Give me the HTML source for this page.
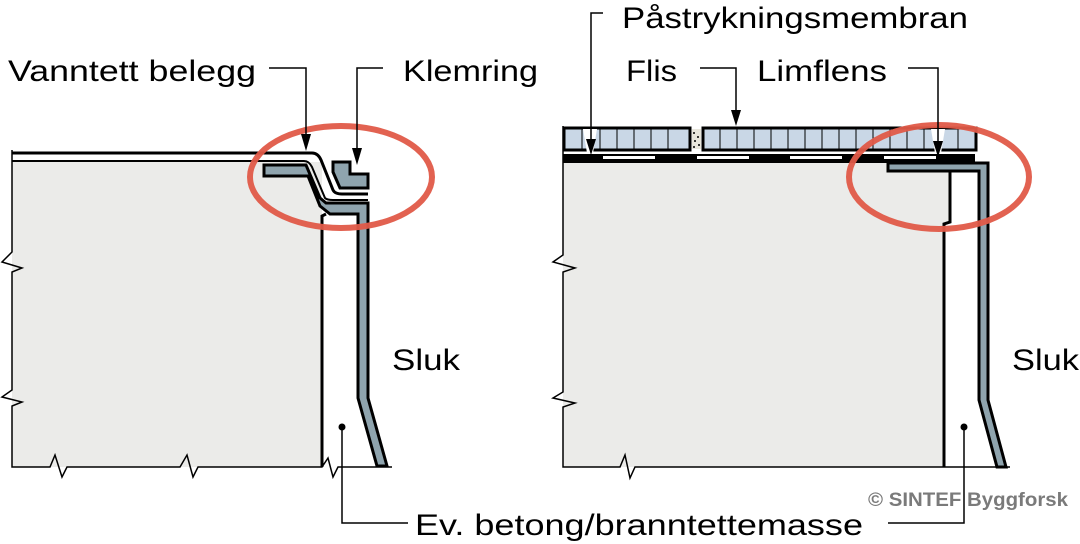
<!DOCTYPE html>
<html><head><meta charset="utf-8"><style>
html,body{margin:0;padding:0;background:#fff;}
svg{display:block;}
text{font-family:"Liberation Sans",Arial,sans-serif;fill:#000;}
</style></head><body>
<svg width="1080" height="544" viewBox="0 0 1080 544" xmlns="http://www.w3.org/2000/svg">

<path d="M12,162 L322,162 L322,467 L12,467 Z" fill="#ebebe9"/>
<path d="M12,150 L12,252 L2,262 L22,268 L12,272 L12,390 L2,397 L22,402 L12,406 L12,467 L50,467 L55,455 L62,477 L67,467 L180,467 L187,455 L193,477 L198,467 L322,467 L328,458 L333,477 L338,467 L392,467" fill="none" stroke="#000" stroke-width="1.5"/>
<path d="M322,467 L322,216 L326,214" fill="none" stroke="#000" stroke-width="3"/>
<path d="M264,165 L306,165 L320,198 L326,203 L368,203 L368,398 L387,466 L377,466 L358,398 L358,214 L330,214 L320,206 L308,176 L264,176 Z" fill="#8fa4ae" stroke="#000" stroke-width="3" stroke-linejoin="miter"/>
<path d="M12,153 L312,153 Q318,153 321,160 L333,190 Q335,194 342,194 L368,194" fill="none" stroke="#000" stroke-width="3"/>
<path d="M12,161 L304,161 Q309,161 312,167 L325,198 Q327,200 333,200 L368,200" fill="none" stroke="#000" stroke-width="2"/>
<path d="M333,162 L350,162 L350,174 L368,174 L368,188 L340,188 L333,172 Z" fill="#8fa4ae" stroke="#000" stroke-width="3" stroke-linejoin="miter"/>

<path d="M563,163 L950,163 L950,222 L944,224 L944,467 L563,467 Z" fill="#ebebe9"/>
<path d="M563,126 L563,255 L553,262 L575,268 L563,272 L563,392 L553,398 L575,403 L563,407 L563,467 L620,467 L625,455 L630,478 L635,467 L1010,467" fill="none" stroke="#000" stroke-width="1.5"/>
<path d="M950,170 L950,222 L944,224 L944,467" fill="none" stroke="#000" stroke-width="3"/>
<rect x="563" y="154" width="412" height="9" fill="#000"/>
<rect x="603" y="156" width="52" height="3" fill="#fff"/>
<rect x="697" y="156" width="52" height="3" fill="#fff"/>
<rect x="790" y="156" width="52" height="3" fill="#fff"/>
<rect x="884" y="156" width="52" height="3" fill="#fff"/>
<g stroke="#000" stroke-width="3" fill="#c9d7e6">
<rect x="564" y="128" width="126" height="22"/>
<rect x="703" y="128" width="273" height="22"/>
</g>
<g stroke="#000" stroke-width="1">
<path d="M582,128V150 M600,128V150 M617,128V150 M634,128V150 M651,128V150 M668,128V150 M720,128V150 M737,128V150 M754,128V150 M771,128V150 M788,128V150 M805,128V150 M822,128V150 M839,128V150 M856,128V150 M873,128V150 M890,128V150 M907,128V150 M924,128V150 M941,128V150 M958,128V150"/>
</g>
<rect x="692" y="129" width="9" height="20" fill="#e8e6dc"/>
<g fill="#000"><circle cx="694" cy="133" r="1"/><circle cx="698" cy="137" r="1"/><circle cx="695" cy="141" r="1"/><circle cx="699" cy="145" r="1"/><circle cx="694" cy="147" r="1"/></g>
<path d="M583,129 L597,129 L593,153 L587,153 Z" fill="#fff"/>
<path d="M931,129 L945,129 L941,153 L935,153 Z" fill="#fff"/>
<path d="M888,163 L888,171 L979,171 L979,400 L997,467 L1006,467 L988,400 L988,163 Z" fill="#8fa4ae" stroke="#000" stroke-width="3" stroke-linejoin="miter"/>

<ellipse cx="341" cy="177" rx="91" ry="51" fill="none" stroke="#e05a48" stroke-width="6" opacity="0.95"/>
<ellipse cx="939" cy="177" rx="90" ry="52" fill="none" stroke="#e05a48" stroke-width="6" opacity="0.95"/>

<g fill="none" stroke="#000" stroke-width="1.5">
<path d="M269,68 H306 V136"/>
<path d="M383,68 H357 V150"/>
<path d="M603,13 H591 V141"/>
<path d="M700,68 H736 V112"/>
<path d="M908,68 H938 V143"/>
<path d="M342,427 V523 H408"/>
<path d="M964,427 V523 H888"/>
</g>
<g fill="#000">
<path d="M301,134 L311,134 L306,151 Z"/>
<path d="M352,148 L362,148 L357,165 Z"/>
<path d="M586,139 L596,139 L591,155 Z"/>
<path d="M731,110 L741,110 L736,126 Z"/>
<path d="M933,141 L943,141 L938,157 Z"/>
</g>
<circle cx="342" cy="427" r="3.5" fill="#000"/>
<circle cx="964" cy="427" r="3.5" fill="#000"/>

<g font-size="30">
<text x="8" y="81" textLength="248" lengthAdjust="spacingAndGlyphs">Vanntett belegg</text>
<text x="403" y="81" textLength="135" lengthAdjust="spacingAndGlyphs">Klemring</text>
<text x="622" y="28" textLength="346" lengthAdjust="spacingAndGlyphs">Påstrykningsmembran</text>
<text x="626" y="81" textLength="51" lengthAdjust="spacingAndGlyphs">Flis</text>
<text x="757" y="81" textLength="130" lengthAdjust="spacingAndGlyphs">Limflens</text>
<text x="392" y="370" textLength="68" lengthAdjust="spacingAndGlyphs">Sluk</text>
<text x="1012" y="370" textLength="67" lengthAdjust="spacingAndGlyphs">Sluk</text>
<text x="415" y="535" textLength="448" lengthAdjust="spacingAndGlyphs">Ev. betong/branntettemasse</text>
</g>
<text x="868" y="506" font-size="19" font-weight="bold" style="fill:#7a7a7a" textLength="200" lengthAdjust="spacingAndGlyphs">© SINTEF Byggforsk</text>
</svg>
</body></html>
